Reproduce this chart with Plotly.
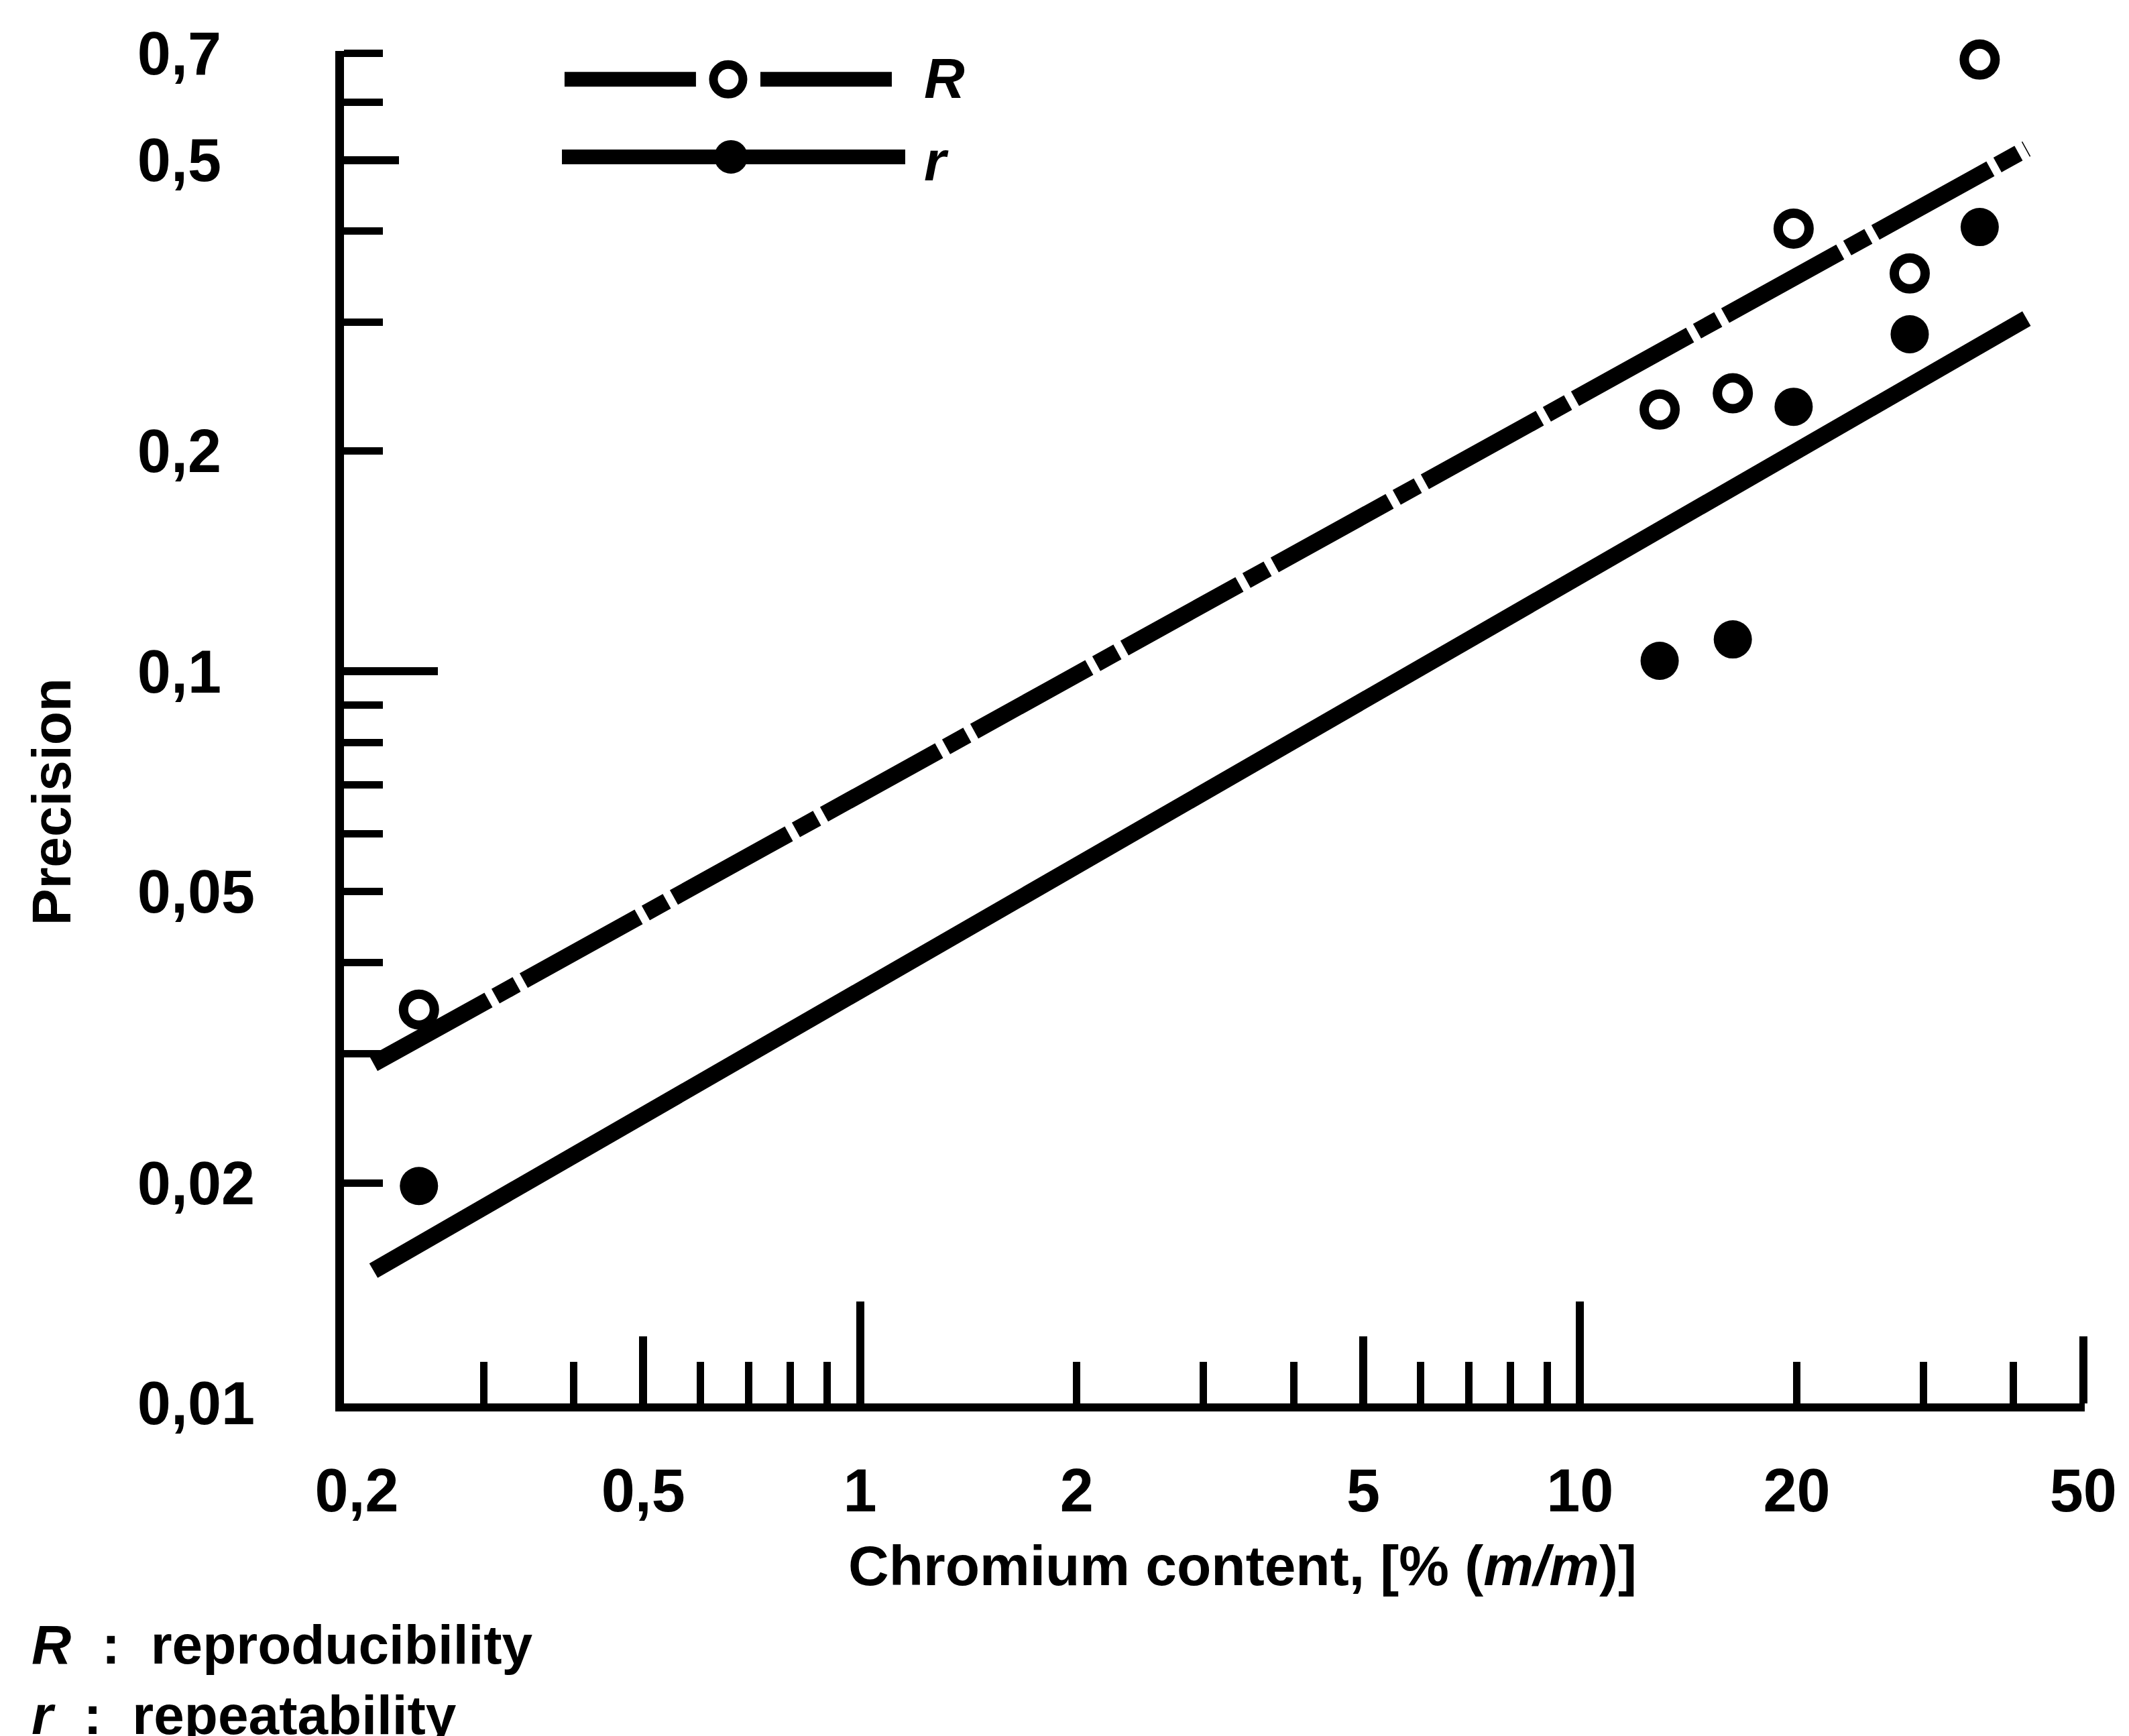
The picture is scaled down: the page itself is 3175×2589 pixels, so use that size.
import math
import plotly.graph_objects as go

# Chromium content of the test materials, % (m/m)
cr_content = [0.244, 12.9, 16.3, 19.8, 28.7, 35.9]
# Reproducibility R and repeatability r found for each material
reproducibility_R = [0.0345, 0.228, 0.240, 0.403, 0.350, 0.686]
repeatability_r = [0.0198, 0.1034, 0.1106, 0.230, 0.289, 0.405]

# End points of the fitted precision lines
fit_cr = [0.211, 41.7]
fit_R = [0.0291, 0.518]
fit_r = [0.01517, 0.3036]

# Axis labelling
x_label_vals = [0.2, 0.5, 1, 2, 5, 10, 20, 50]
x_label_text = ["0,2", "0,5", "1", "2", "5", "10", "20", "50"]
y_label_vals = [0.01, 0.02, 0.05, 0.1, 0.2, 0.5, 0.7]
y_label_text = ["0,01", "0,02", "0,05", "0,1\u2007", "0,2\u2007", "0,5\u2007", "0,7\u2007"]

x_long_ticks = [1, 10]
x_mid_ticks = [0.5, 5, 50]
x_short_ticks = [0.3, 0.4, 0.6, 0.7, 0.8, 0.9, 2, 3, 4, 6, 7, 8, 9, 20, 30, 40]
y_long_ticks = [0.1]
y_mid_ticks = [0.5]
y_short_ticks = [0.02, 0.03, 0.04, 0.05, 0.06, 0.07, 0.08, 0.09, 0.2, 0.3, 0.4, 0.6, 0.7]

FONT = "Liberation Sans, Arial, Helvetica, sans-serif"
INK = "black"

x_range = [math.log10(0.192), math.log10(50) + 0.002]
y_range = [-2 - 0.0005, math.log10(0.7) + 0.003]

fig = go.Figure()

# fitted lines (main x/y axes)
fig.add_trace(go.Scatter(x=fit_cr, y=fit_R, mode="lines",
                         line=dict(color=INK, width=25, dash="196px,12px,36px,12px"),
                         showlegend=False))
fig.add_trace(go.Scatter(x=fit_cr, y=fit_r, mode="lines",
                         line=dict(color=INK, width=25),
                         showlegend=False))
# measured points, drawn on the overlay axes (same scales) so they sit above the lines
fig.add_trace(go.Scatter(x=cr_content, y=repeatability_r, mode="markers",
                         marker=dict(symbol="circle", size=57, color=INK,
                                     line=dict(width=0)),
                         xaxis="x2", yaxis="y2", cliponaxis=False, showlegend=False))
fig.add_trace(go.Scatter(x=cr_content, y=reproducibility_R, mode="markers",
                         marker=dict(symbol="circle", size=46, color="white",
                                     line=dict(color=INK, width=14)),
                         xaxis="x3", yaxis="y3", cliponaxis=False, showlegend=False))

# key in the upper left corner, drawn on a unit overlay
fig.add_trace(go.Scatter(x=[0.1267, 0.2022, None, 0.2392, 0.3147],
                         y=[0.979, 0.979, None, 0.979, 0.979], mode="lines",
                         line=dict(color=INK, width=22),
                         xaxis="x4", yaxis="y4", showlegend=False))
fig.add_trace(go.Scatter(x=[0.2207], y=[0.979], mode="markers",
                         marker=dict(symbol="circle", size=44, color="white",
                                     line=dict(color=INK, width=13)),
                         xaxis="x4", yaxis="y4", cliponaxis=False, showlegend=False))
fig.add_trace(go.Scatter(x=[0.1252, 0.3224], y=[0.9217, 0.9217], mode="lines",
                         line=dict(color=INK, width=22),
                         xaxis="x4", yaxis="y4", showlegend=False))
fig.add_trace(go.Scatter(x=[0.2223], y=[0.9217], mode="markers",
                         marker=dict(symbol="circle", size=50, color=INK),
                         xaxis="x4", yaxis="y4", cliponaxis=False, showlegend=False))

tick_font = dict(family=FONT, size=90, color=INK, weight="bold")

base_x = dict(type="log", range=x_range, showgrid=False, zeroline=False, automargin=False)
base_y = dict(type="log", range=y_range, showgrid=False, zeroline=False, automargin=False)

fig.update_layout(
    width=3175, height=2589,
    margin=dict(l=513, r=66, t=76, b=496, pad=0, autoexpand=False),
    paper_bgcolor="white", plot_bgcolor="rgba(0,0,0,0)",
    font=dict(family=FONT, color=INK, weight="bold"),
    xaxis=dict(**base_x, showline=True, linecolor=INK, linewidth=12,
               ticks="inside", tickvals=x_long_ticks, ticklen=152, tickwidth=12,
               tickcolor=INK, showticklabels=False,
               minor=dict(tickvals=x_short_ticks, ticks="inside", ticklen=62,
                          tickwidth=11, tickcolor=INK, showgrid=False)),
    xaxis2=dict(**base_x, overlaying="x", anchor="y2", showline=False,
                ticks="inside", tickvals=x_mid_ticks, ticklen=100, tickwidth=12,
                tickcolor=INK, showticklabels=False),
    # labels only: an invisible outside tick sets their distance from the axis
    xaxis3=dict(**base_x, overlaying="x", anchor="y3", showline=False,
                ticks="outside", ticklen=52, tickwidth=1, tickcolor="rgba(0,0,0,0)",
                tickvals=x_label_vals, ticktext=x_label_text, tickfont=tick_font),
    yaxis=dict(**base_y, showline=True, linecolor=INK, linewidth=13,
               ticks="inside", tickvals=y_long_ticks, ticklen=140, tickwidth=12,
               tickcolor=INK, showticklabels=False,
               minor=dict(tickvals=y_short_ticks, ticks="inside", ticklen=58,
                          tickwidth=11, tickcolor=INK, showgrid=False)),
    yaxis2=dict(**base_y, overlaying="y", anchor="x2", showline=False,
                ticks="inside", tickvals=y_mid_ticks, ticklen=82, tickwidth=12,
                tickcolor=INK, showticklabels=False),
    yaxis3=dict(**base_y, overlaying="y", anchor="x3", showline=False,
                ticks="inside", tickvals=y_label_vals, ticktext=y_label_text,
                ticklen=58, tickwidth=11, tickcolor=INK,
                tickfont=tick_font, ticklabelstandoff=132),
    xaxis4=dict(overlaying="x", anchor="y4", range=[0, 1], visible=False, automargin=False),
    yaxis4=dict(overlaying="y", anchor="x4", range=[0, 1], visible=False, automargin=False),
)

# texts placed relative to the plotting area of the main axes
ann_font = dict(family=FONT, size=82, color=INK, weight="bold")
annotations = [
    dict(text="Chromium content, [% (<i>m/m</i>)]", x=0.516, y=-0.12,
         xanchor="center", yanchor="middle", font=dict(ann_font, size=84)),
    dict(text="Precision", x=-0.168, y=0.445, textangle=-90,
         xanchor="center", yanchor="middle", font=ann_font),
    dict(text="<i>R</i>\u00a0\u00a0:\u00a0\u00a0reproducibility", x=-0.1803, y=-0.1781,
         xanchor="left", yanchor="middle", font=ann_font),
    dict(text="<i>r</i>\u00a0\u00a0:\u00a0\u00a0repeatability", x=-0.1803, y=-0.2302,
         xanchor="left", yanchor="middle", font=ann_font),
    dict(text="<i>R</i>", x=0.3324, y=0.9797, xanchor="left", yanchor="middle",
         font=dict(ann_font, size=84)),
    dict(text="<i>r</i>", x=0.3324, y=0.9187, xanchor="left", yanchor="middle",
         font=dict(ann_font, size=84)),
]
for a in annotations:
    a.update(xref="x domain", yref="y domain", showarrow=False)
fig.update_layout(annotations=annotations)

fig.write_html("out.html")
